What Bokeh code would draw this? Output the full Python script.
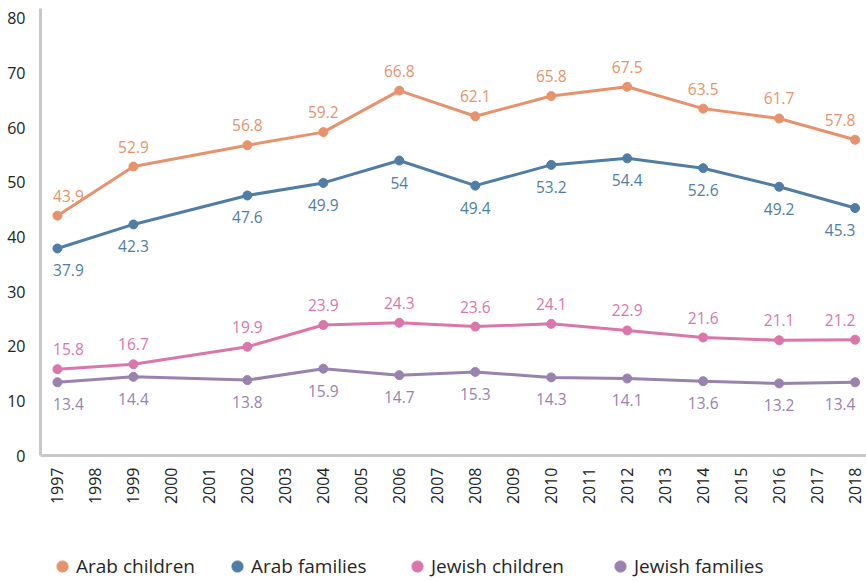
import math
from bokeh.plotting import figure
from bokeh.layouts import column
from bokeh.models import ColumnDataSource, FixedTicker, Legend, LegendItem, Range1d
from bokeh.embed import file_html
from bokeh.resources import INLINE
from bokeh.core.properties import value

years = [1997, 1999, 2002, 2004, 2006, 2008, 2010, 2012, 2014, 2016, 2018]
arab_children = [43.9, 52.9, 56.8, 59.2, 66.8, 62.1, 65.8, 67.5, 63.5, 61.7, 57.8]
arab_families = [37.9, 42.3, 47.6, 49.9, 54.0, 49.4, 53.2, 54.4, 52.6, 49.2, 45.3]
jewish_children = [15.8, 16.7, 19.9, 23.9, 24.3, 23.6, 24.1, 22.9, 21.6, 21.1, 21.2]
jewish_families = [13.4, 14.4, 13.8, 15.9, 14.7, 15.3, 14.3, 14.1, 13.6, 13.2, 13.4]
series_names = ["Arab children", "Arab families", "Jewish children", "Jewish families"]
tick_years = list(range(1997, 2019))
y_ticks = [0, 10, 20, 30, 40, 50, 60, 70, 80]

colors = ["#E7926C", "#4F7DA6", "#DB76AA", "#9882AE"]
label_dy = [-20, 22, -20, 22]
legend_x = [8, 183, 363, 566]   # left edge of each legend entry, px
FONT = "Open Sans"

p = figure(width=866, height=520, output_backend="svg", toolbar_location=None,
           x_range=Range1d(1996.554, 2018.3), y_range=Range1d(0, 81.83),
           min_border_left=40, min_border_right=0, min_border_top=8,
           min_border_bottom=65)
p.outline_line_color = None
p.xgrid.visible = False
p.ygrid.visible = False

for ax in (p.xaxis, p.yaxis):
    ax.axis_line_color = "#c8c8c8"
    ax.axis_line_width = 3
    ax.major_tick_line_color = None
    ax.minor_tick_line_color = None
    ax.major_label_text_font = FONT
    ax.major_label_text_font_size = "16px"
    ax.major_label_text_color = "#222222"

p.yaxis.ticker = FixedTicker(ticks=y_ticks)
p.yaxis.major_label_standoff = 9
p.xaxis.ticker = FixedTicker(ticks=tick_years)
p.xaxis.major_label_orientation = math.pi / 2
p.xaxis.major_label_standoff = 6

all_series = [arab_children, arab_families, jewish_children, jewish_families]
n = len(years)
xoffs = [11 if i == 0 else (-15 if i == n - 1 else 0) for i in range(n)]

for name, vals, c, dy in zip(series_names, all_series, colors, label_dy):
    src = ColumnDataSource(dict(x=years, y=vals, t=[f"{v:g}" for v in vals],
                                xo=xoffs, yo=[dy] * n))
    p.line("x", "y", source=src, line_width=3, color=c)
    p.scatter("x", "y", source=src, size=9, color=c)
    p.text("x", "y", text="t", source=src, x_offset="xo", y_offset="yo",
           text_align="center", text_baseline="middle",
           text_font=value(FONT), text_font_size="15.5px", text_color=c)

# legend strip below the chart (no axes, so its frame spans the full width)
lg = figure(width=866, height=61, output_backend="svg", toolbar_location=None,
            x_range=Range1d(0, 1), y_range=Range1d(0, 1),
            x_axis_location=None, y_axis_location=None,
            min_border_left=0, min_border_right=0, min_border_top=0,
            min_border_bottom=0)
lg.xgrid.visible = False
lg.ygrid.visible = False
lg.outline_line_color = None
for name, c, lx in zip(series_names, colors, legend_x):
    r = lg.scatter(x=[-5], y=[-5], size=11, color=c)
    legend = Legend(items=[LegendItem(label=name, renderers=[r])],
                    location=(lx, 1), orientation="horizontal",
                    glyph_width=28, glyph_height=28, label_standoff=-1,
                    padding=0, margin=0, border_line_alpha=0,
                    background_fill_alpha=0,
                    label_text_font=FONT, label_text_font_size="19px",
                    label_text_color="#262626")
    lg.add_layout(legend, "center")

layout = column(p, lg, spacing=0)
open("out.html", "w").write(file_html(layout, INLINE))
